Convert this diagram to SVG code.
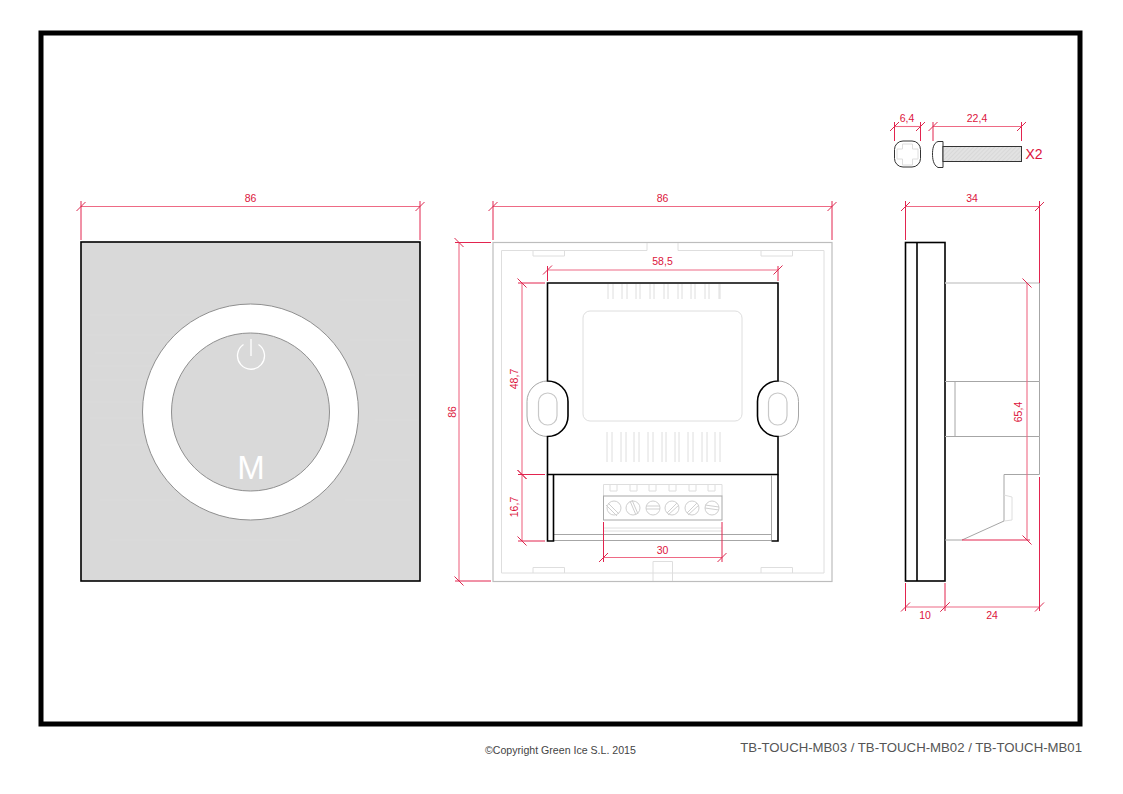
<svg xmlns="http://www.w3.org/2000/svg" width="1123" height="794" viewBox="0 0 1123 794">
<style>
.d{fill:none;stroke:#ee6a85;stroke-width:1.1;marker-start:url(#tick);marker-end:url(#tick)}
.e{fill:none;stroke:#e2244f;stroke-width:1}
.t{font-family:"Liberation Sans",Arial,sans-serif;font-size:10.5px;fill:#dc143c;text-anchor:middle}
.k{fill:none;stroke:#000;stroke-width:1.6}
.g{fill:none;stroke:#a6a6a6;stroke-width:1}
.l{fill:none;stroke:#dedede;stroke-width:1}
.m{fill:none;stroke:#c8c8c8;stroke-width:1.2}
</style>
<defs>
<marker id="tick" markerUnits="userSpaceOnUse" markerWidth="20" markerHeight="20" refX="10" refY="10" orient="auto" overflow="visible"><path d="M5.500 14.500L14.500 5.500" stroke="#dc2a50" stroke-width="1" fill="none"/></marker>
<pattern id="hatch" width="3" height="3" patternUnits="userSpaceOnUse" patternTransform="rotate(45)"><rect width="3" height="3" fill="#e2e2e2"/><path d="M0 0V3" stroke="#cecece" stroke-width="1"/></pattern>
</defs>
<rect width="1123" height="794" fill="#fff"/>
<rect id="frame" x="41" y="33" width="1039" height="691" fill="none" stroke="#000" stroke-width="5"/>

<g id="front-panel">
<rect x="81" y="242" width="339" height="339" fill="#d9d9d9" stroke="#000" stroke-width="1.6"/>
<path d="M90 315H260M86 335H300M95 353H190M88 366H170M90 380H165M85 402H160M90 418H150M100 445H150M340 300H410M350 340H415M365 375H415M375 420H418M370 460H410M345 500H412M100 500H175M110 540H300" stroke="#dddddd" stroke-width=".7" fill="none"/>
<circle cx="250.500" cy="412" r="108" fill="#fff" stroke="#8f8f8f" stroke-width="1"/>
<circle cx="250.500" cy="412" r="79" fill="#d9d9d9" stroke="#8f8f8f" stroke-width="1"/>
<path d="M243.500 344.500A13.500 13.500 0 1 0 258.500 344.500M251 339V356" fill="none" stroke="#fff" stroke-width="1.300"/>
<text x="251" y="479" font-family="Liberation Sans,Arial,sans-serif" font-size="33" fill="#fff" text-anchor="middle">M</text>
</g>

<g id="back-view">
<rect x="493" y="242.500" width="339" height="339" fill="#fff" stroke="#bdbdbd" stroke-width="1.200"/>
<path class="l" d="M647 243V250.500H501.500V573H824V250.500H678V243"/>
<path class="l" d="M533 250.500V256H564.500V250.500M761 250.500V256H792.500V250.500M533 573V567.500H564.500V573M761 573V567.500H792.500V573"/>
<path class="l" d="M653 581V561.500H672.500V581"/>
<rect class="l" x="583" y="311" width="159" height="110" rx="7"/>
<path class="l" d="M608 284V299M613 284V299M622 284V299M627 284V299M636 284V299M640 284V299M650 284V299M654 284V299M664 284V299M668 284V299M678 284V299M682 284V299M691 284V299M695 284V299M705 284V299M709 284V299M719 284V299M720 284V299"/>
<path class="l" d="M607 432V462M612 432V462M621 432V462M626 432V462M634 432V462M639 432V462M648 432V462M653 432V462M662 432V462M666 432V462M675 432V462M679 432V462M688 432V462M693 432V462M702 432V462M707 432V462M715 432V462M720 432V462"/>
<path class="g" d="M547.500 381A20.500 20.500 0 0 0 527 401.500V416A20.500 20.500 0 0 0 547.500 436.500M778 381A20.500 20.500 0 0 1 798.500 401.500V416A20.500 20.500 0 0 1 778 436.500"/>
<rect class="m" x="538.500" y="393" width="18.500" height="32" rx="9.200"/>
<rect class="m" x="768.500" y="393" width="18.500" height="32" rx="9.200"/>
<path class="k" d="M547.500 381V283H778V381A20.500 20.500 0 0 0 757.500 401.500V416A20.500 20.500 0 0 0 778 436.500V474.500H547.500V436.500A20.500 20.500 0 0 0 568 416V401.500A20.500 20.500 0 0 0 547.500 381Z"/>
<path class="g" d="M553.500 534.500H771.500M553.500 540.500H771.500M771.500 475V540.500"/>
<path class="k" d="M547.500 474.500V541H553.500V474.500M771.500 541H778V474.500"/>
<path class="l" d="M603.500 496V484.500H722V496M610 484.500V491H617V484.500M630 484.500V491H637V484.500M649 484.500V491H656V484.500M669 484.500V491H676V484.500M689 484.500V491H696V484.500M708 484.500V491H715V484.500M603.500 528H722M603.500 531H722"/>
<rect x="603.500" y="496" width="118.500" height="24" fill="none" stroke="#a8a8a8"/>
<g fill="none" stroke="#cfcfcf" stroke-width="1">
<circle cx="614" cy="508" r="7"/><path d="M608 503L619 514M606 505L617 516"/>
<circle cx="633" cy="508" r="7"/><path d="M630 501L636 515M632 500L638 514"/>
<circle cx="653" cy="508" r="7"/><path d="M646 506H660M646 509H660"/>
<circle cx="672" cy="508" r="7"/><path d="M667 513L677 503M668 515L679 505"/>
<circle cx="692" cy="508" r="7"/><path d="M687 513L697 503M688 515L699 505"/>
<circle cx="712" cy="508" r="7"/><path d="M705 505L719 507M705 508L719 510"/>
</g>
</g>

<g id="side-view">
<rect x="905.500" y="242.500" width="39.500" height="338.500" fill="#fff" class="k"/>
<path class="k" d="M917 242.500V581"/>
<path d="M945 283H1039.500" stroke="#cfcfcf" stroke-width="1.600" fill="none"/>
<path d="M1039.500 283V381.500M945 381.500H1039.500V436.500H945M955 381.500V436.500" class="g"/>
<path d="M1039.500 436.500V474.500H1004V521L962 540H945" class="g"/>
<path class="l" d="M1004 495L1012 497V520L1004 521"/>
</g>

<g id="screw-head">
<rect x="894.500" y="141" width="26" height="26" rx="8.500" fill="#fff" stroke="#333" stroke-width="1"/>
<path d="M902.500 144H912.500V149H918V159H912.500V165H902.500V159H897V149H902.500Z" fill="none" stroke="#dedede"/>
</g>
<g id="screw-side">
<path d="M943 141.500H938C933 143 932.500 150 932.500 154S933 165 938 167.500H943Z" fill="#fff" stroke="#333" stroke-width="1"/>
<rect x="943" y="146.500" width="78.500" height="15" fill="url(#hatch)" stroke="#333" stroke-width="1"/>
<text x="1034" y="159" font-family="Liberation Sans,Arial,sans-serif" font-size="14" fill="#dc143c" text-anchor="middle">X2</text>
</g>

<g id="dimensions">
<path class="d" d="M81 206.500H420"/><path class="e" d="M81 201V240M420 201V240"/>
<path class="d" d="M493 206.500H832"/><path class="e" d="M493 201V240M832 201V240"/>
<path class="d" d="M459 242.500V581"/><path class="e" d="M455 242.500H491M455 581H491"/>
<path class="d" d="M547.500 270H778"/><path class="e" d="M547.500 266V281M778 266V281"/>
<path class="d" d="M522 283V474.500"/><path class="d" d="M522 474.500V541"/><path class="e" d="M518 283H545M518 474.500H545M518 541H545"/>
<path class="d" d="M603.500 557.500H722"/><path class="e" d="M603.500 522V562M722 522V562"/>
<path class="d" d="M905.500 206.500H1039.500"/><path class="e" d="M905.500 201V240M1039.500 201V283"/>
<path class="d" d="M1027 283V540"/><path class="e" d="M962 540H1030" stroke-width="1.400"/>
<path class="d" d="M905.500 607H945"/><path class="d" d="M945 607H1039.500"/><path class="e" d="M905.500 583V611M945 583V611M1039.500 477V611"/>
<path class="d" d="M894.500 126.500H920.500"/><path class="e" d="M894.500 122V141M920.500 122V141"/>
<path class="d" d="M933 126.500H1021.500"/><path class="e" d="M933 122V141M1021.500 122V141"/>
<text class="t" x="250.500" y="202">86</text>
<text class="t" x="662.500" y="202">86</text>
<text class="t" transform="translate(455.500 412) rotate(-90)">86</text>
<text class="t" x="662.500" y="265">58,5</text>
<text class="t" transform="translate(517.500 379) rotate(-90)">48,7</text>
<text class="t" transform="translate(517.500 507) rotate(-90)">16,7</text>
<text class="t" x="662.500" y="554">30</text>
<text class="t" x="972" y="202">34</text>
<text class="t" transform="translate(1021.500 412) rotate(-90)">65,4</text>
<text class="t" x="925" y="619">10</text>
<text class="t" x="992" y="619">24</text>
<text class="t" x="907" y="122">6,4</text>
<text class="t" x="977" y="122">22,4</text>
</g>

<text x="485" y="754" font-family="Liberation Sans,Arial,sans-serif" font-size="10.600" fill="#444">©Copyright Green Ice S.L. 2015</text>
<text x="1082" y="752" font-family="Liberation Sans,Arial,sans-serif" font-size="13.200" fill="#555" text-anchor="end">TB-TOUCH-MB03 / TB-TOUCH-MB02 / TB-TOUCH-MB01</text>
</svg>
